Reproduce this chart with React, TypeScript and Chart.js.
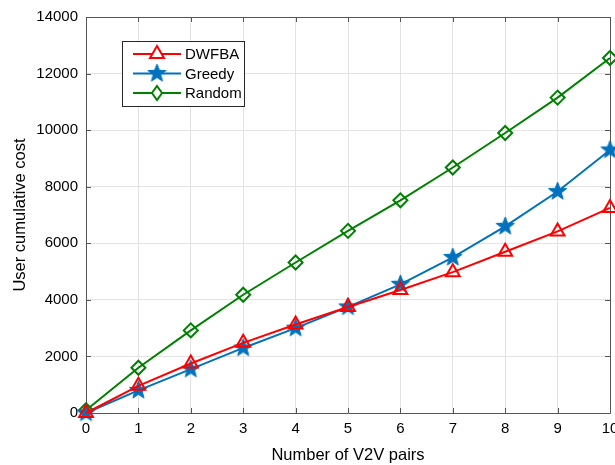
import React, { useEffect, useRef } from "react";
import { Chart, registerables } from "chart.js";

Chart.register(...registerables);

const xValues = [0, 1, 2, 3, 4, 5, 6, 7, 8, 9, 10];
const dwfba = [0, 960, 1750, 2480, 3130, 3750, 4350, 4980, 5700, 6420, 7250];
const greedy = [0, 800, 1550, 2300, 3000, 3750, 4550, 5500, 6600, 7830, 9300];
const random = [100, 1600, 2920, 4180, 5320, 6440, 7520, 8680, 9900, 11150, 12550];
const seriesNames = ["DWFBA", "Greedy", "Random"];
const xTitle = "Number of V2V pairs";
const yTitle = "User cumulative cost";

const RED = "#ff0000";
const BLUE = "#0072bd";
const GREEN = "#008000";
const FONT = "'Liberation Sans', Arial, sans-serif";

function makeStar(color: string, r: number) {
  const size = Math.ceil(r * 2 + 4);
  const c = document.createElement("canvas");
  c.width = size;
  c.height = size;
  const ctx = c.getContext("2d")!;
  const cx = size / 2;
  const cy = size / 2;
  const inner = r * 0.42;
  ctx.beginPath();
  for (let i = 0; i < 10; i++) {
    const rad = i % 2 === 0 ? r : inner;
    const a = -Math.PI / 2 + (i * Math.PI) / 5;
    const px = cx + rad * Math.cos(a);
    const py = cy + rad * Math.sin(a);
    if (i === 0) ctx.moveTo(px, py);
    else ctx.lineTo(px, py);
  }
  ctx.closePath();
  ctx.fillStyle = color;
  ctx.fill();
  ctx.strokeStyle = color;
  ctx.lineWidth = 1;
  ctx.stroke();
  return c;
}

export default function App() {
  const ref = useRef<HTMLCanvasElement>(null);
  useEffect(() => {
    document.body.style.margin = "0";
    document.body.style.overflow = "hidden";
    const star = makeStar(BLUE, 9.5);

    const boxPlugin = {
      id: "boxPlugin",
      beforeDatasetsDraw(chart: any) {
        const { ctx, chartArea } = chart;
        const { left, right, top, bottom } = chartArea;
        const xs = chart.scales.x;
        const ys = chart.scales.y;
        ctx.save();
        ctx.strokeStyle = "#555555";
        ctx.lineWidth = 1;
        ctx.beginPath();
        ctx.rect(Math.round(left) + 0.5, Math.round(top) + 0.5, Math.round(right - left), Math.round(bottom - top));
        ctx.stroke();
        const tl = 5;
        ctx.beginPath();
        xValues.forEach((v) => {
          const px = Math.round(xs.getPixelForValue(v)) + 0.5;
          ctx.moveTo(px, bottom);
          ctx.lineTo(px, bottom - tl);
          ctx.moveTo(px, top);
          ctx.lineTo(px, top + tl);
        });
        ys.ticks.forEach((t: any) => {
          const py = Math.round(ys.getPixelForValue(t.value)) + 0.5;
          ctx.moveTo(left, py);
          ctx.lineTo(left + tl, py);
          ctx.moveTo(right, py);
          ctx.lineTo(right - tl, py);
        });
        ctx.stroke();
        ctx.restore();
      },
    };

    const legendPlugin = {
      id: "legendBox",
      afterDatasetsDraw(chart: any) {
        const { ctx } = chart;
        const bx = 122.5, by = 41.5, bw = 122, bh = 65;
        ctx.save();
        ctx.fillStyle = "#ffffff";
        ctx.fillRect(bx, by, bw, bh);
        ctx.strokeStyle = "#262626";
        ctx.lineWidth = 1;
        ctx.strokeRect(bx, by, bw, bh);
        const rows = [54, 73.5, 93];
        chart.data.datasets.forEach((ds: any, i: number) => {
          const y = rows[i];
          ctx.strokeStyle = ds.borderColor;
          ctx.lineWidth = 2;
          ctx.beginPath();
          ctx.moveTo(133, y);
          ctx.lineTo(181, y);
          ctx.stroke();
          if (ds.pointStyle === star) {
            ctx.drawImage(star, 157 - star.width / 2, y - star.height / 2);
          } else {
            ctx.fillStyle = "#ffffff";
            const style = ds.pointStyle;
            const r = ds.pointRadius;
            ctx.beginPath();
            if (style === "triangle") {
              ctx.moveTo(157, y - r);
              ctx.lineTo(157 + r * 0.87, y + r * 0.5);
              ctx.lineTo(157 - r * 0.87, y + r * 0.5);
              ctx.closePath();
            } else {
              ctx.moveTo(157, y - r);
              ctx.lineTo(157 + r * 0.72, y);
              ctx.lineTo(157, y + r);
              ctx.lineTo(157 - r * 0.72, y);
              ctx.closePath();
            }
            ctx.fill();
            ctx.lineWidth = 2;
            ctx.stroke();
          }
          ctx.fillStyle = "#000000";
          ctx.font = `15px ${FONT}`;
          ctx.textBaseline = "middle";
          ctx.textAlign = "left";
          ctx.fillText(ds.label, 185, y + 1);
        });
        ctx.restore();
      },
    };

    const mk = (vals: number[]) => xValues.map((x, i) => ({ x, y: vals[i] }));

    const chart = new Chart(ref.current!, {
      type: "line",
      data: {
        datasets: [
          {
            label: seriesNames[0],
            data: mk(dwfba),
            borderColor: RED,
            backgroundColor: "rgba(255,255,255,0)",
            borderWidth: 2,
            pointStyle: "triangle",
            pointRadius: 8,
            pointBorderWidth: 2,
            pointBorderColor: RED,
            pointBackgroundColor: "rgba(255,255,255,0)",
            clip: false,
          } as any,
          {
            label: seriesNames[1],
            data: mk(greedy),
            borderColor: BLUE,
            backgroundColor: BLUE,
            borderWidth: 2,
            pointStyle: star,
            pointRadius: 9,
            clip: false,
          } as any,
          {
            label: seriesNames[2],
            data: mk(random),
            borderColor: GREEN,
            backgroundColor: "rgba(255,255,255,0)",
            borderWidth: 2,
            pointStyle: "rectRot",
            pointRadius: 7,
            pointBorderWidth: 2,
            pointBorderColor: GREEN,
            pointBackgroundColor: "rgba(255,255,255,0)",
            clip: false,
          } as any,
        ],
      },
      options: {
        animation: false,
        responsive: false,
        maintainAspectRatio: false,
        layout: { padding: { top: 14, right: 30, left: 0, bottom: 0 } },
        plugins: {
          legend: { display: false },
          tooltip: { enabled: false },
        },
        scales: {
          x: {
            type: "linear",
            min: 0,
            max: 10,
            afterFit: (s: any) => {
              s.height = 52;
            },
            ticks: {
              stepSize: 1,
              color: "#000",
              padding: 7,
              maxRotation: 0,
              font: { family: FONT, size: 15 },
              callback: (v: any) => String(v),
            },
            grid: { color: "#e3e3e3", drawTicks: false },
            border: { display: false },
            title: {
              display: true,
              text: xTitle,
              color: "#000",
              font: { family: FONT, size: 16.5 },
              padding: { top: 2, bottom: 0 },
            },
          },
          y: {
            min: 0,
            max: 14000,
            afterFit: (s: any) => {
              s.width = 86;
            },
            ticks: {
              stepSize: 2000,
              color: "#000",
              padding: 8,
              font: { family: FONT, size: 15 },
              callback: (v: any) => String(v),
            },
            grid: { color: "#e3e3e3", drawTicks: false },
            border: { display: false },
            title: {
              display: true,
              text: yTitle,
              color: "#000",
              font: { family: FONT, size: 16.5 },
              padding: { top: 11, bottom: 0 },
            },
          },
        },
      } as any,
      plugins: [boxPlugin, legendPlugin],
    });
    return () => chart.destroy();
  }, []);

  return (
    <div style={{ position: "fixed", left: 0, top: 0, width: 640, height: 465 }}>
      <canvas ref={ref} width={640} height={465} style={{ width: 640, height: 465 }} />
    </div>
  );
}
